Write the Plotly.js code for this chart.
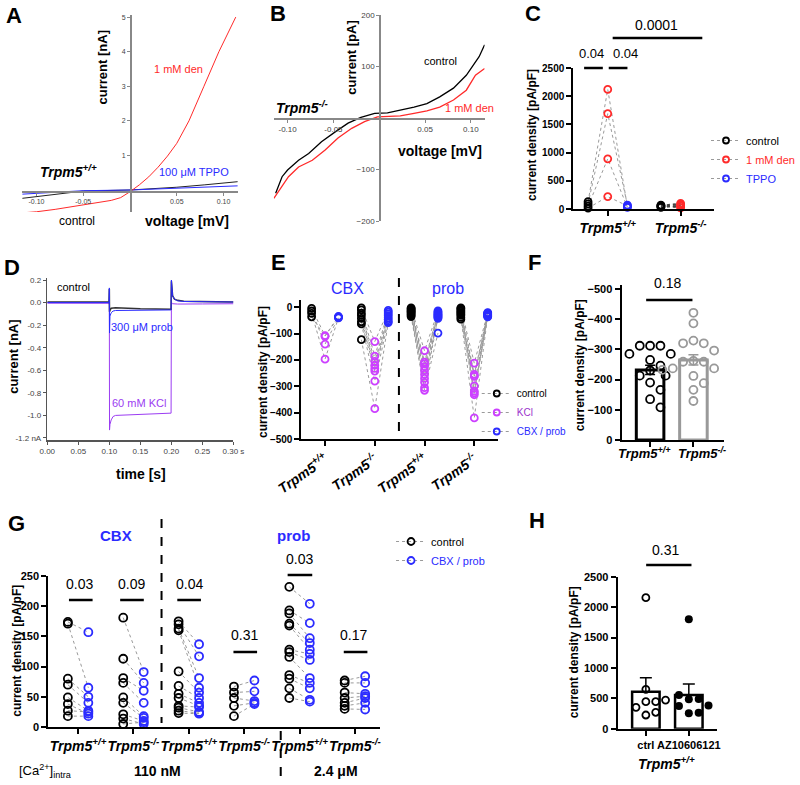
<!DOCTYPE html>
<html><head><meta charset="utf-8">
<script src="https://cdn.plot.ly/plotly-3.0.1.min.js"></script>
<style>html,body{margin:0;padding:0;background:#fff}#plot{width:800px;height:785px}</style>
</head><body><div id="plot"></div>
<script>
// ================= DATA =================
// Panel A: I-V, Trpm5+/+  (voltage [V], current [nA])
const aCtrlV = [-0.115,-0.08,-0.05,0,0.05,0.08,0.115];
const aCtrlI = [-0.24,-0.12,-0.03,0,0.08,0.15,0.24];
const aTppoV = [-0.115,-0.05,0,0.05,0.115];
const aTppoI = [-0.12,-0.02,0,0.05,0.12];
const aDenV  = [-0.115,-0.1,-0.08,-0.06,-0.04,-0.02,-0.01,0,0.01,0.02,0.03,0.04,0.05,0.063,0.079,0.095,0.113];
const aDenI  = [-0.66,-0.63,-0.56,-0.48,-0.40,-0.30,-0.22,-0.05,0.15,0.38,0.66,0.98,1.35,2.0,3.0,4.0,5.0];
// Panel B: I-V, Trpm5-/- (voltage [V], current [pA])
const bCtrlV = [-0.113,-0.106,-0.100,-0.088,-0.077,-0.063,-0.048,-0.034,-0.020,-0.005,0.009,0.023,0.038,0.052,0.066,0.081,0.095,0.109,0.115];
const bCtrlI = [-146,-114,-101,-82,-69,-46,-27,-10,1,9,10,15,21,28,41,58,83,119,142];
const bDenV  = [-0.115,-0.106,-0.099,-0.088,-0.073,-0.059,-0.045,-0.030,-0.016,-0.002,0.009,0.023,0.038,0.052,0.066,0.081,0.095,0.105,0.115];
const bDenI  = [-156,-133,-114,-95,-82,-62,-39,-20,-7,2,3,4,9,14,21,35,54,83,96];
// Panel C: current density [pA/pF]
const cWtCtrl = [130,90,50,15];
const cWtDen  = [2120,1690,890,220];
const cWtTppo = [40,70,30,55];
const cKoCtrl = [40,55,60,70,30];
const cKoDen  = [50,80,100,20,60];
const cTicks  = ['<b><i>Trpm5<sup>+/+</sup></i></b>','<b><i>Trpm5<sup>-/-</sup></i></b>'];
// Panel D: current traces (time [s], current [nA])
const dCtrlT = [0,0.05,0.0995,0.1,0.1003,0.101,0.103,0.106,0.11,0.15,0.1995,0.2,0.2005,0.202,0.205,0.21,0.22,0.25,0.3];
const dCtrlI = [0.006,0.005,0.005,0.12,-0.08,-0.07,-0.05,-0.045,-0.045,-0.055,-0.06,0.19,0.12,0.06,0.03,0.02,0.012,0.008,0.006];
const dProbI = [0.0,0.0,0.0,0.13,-0.27,-0.12,-0.09,-0.075,-0.07,-0.065,-0.065,0.2,0.13,0.06,0.03,0.015,0.01,0.006,0.005];
const dKclT  = [0,0.05,0.0995,0.1,0.1003,0.101,0.103,0.106,0.11,0.15,0.19,0.1995,0.2,0.2005,0.202,0.205,0.21,0.25,0.3];
const dKclI  = [-0.005,-0.006,-0.006,-0.02,-1.13,-1.08,-1.04,-1.01,-1.0,-0.99,-0.98,-0.98,0.02,-0.005,-0.01,-0.012,-0.013,-0.012,-0.01];
// Panel E: current density [pA/pF], per group: control, KCl, CBX/prob
const eGroups = [
  {ctrl:[-4,-14,-23,-36], kcl:[-108,-140,-197,-110], drug:[-35,-38,-40,-36]},
  {ctrl:[-2,-10,-22,-30,-42,-55,-63,-123], kcl:[-130,-185,-205,-220,-232,-242,-280,-385], drug:[-12,-18,-25,-32,-40,-47,-54,-58]},
  {ctrl:[-2,-5,-8,-12,-15,-18,-22,-26,-30,-35], kcl:[-165,-208,-215,-225,-240,-255,-270,-285,-305,-315], drug:[-14,-18,-22,-26,-28,-32,-35,-38,-42,-98]},
  {ctrl:[-2,-5,-10,-15,-20,-25,-30,-38,-45], kcl:[-212,-255,-262,-298,-318,-325,-332,-420,-260], drug:[-20,-22,-24,-26,-28,-30,-32,-34,-36]}
];
const eTicks = ['<b><i>Trpm5<sup>+/+</sup></i></b>','<b><i>Trpm5<sup>-/-</sup></i></b>','<b><i>Trpm5<sup>+/+</sup></i></b>','<b><i>Trpm5<sup>-/-</sup></i></b>'];
// Panel F
const fWt = [-312,-312,-312,-285,-285,-265,-246,-230,-213,-213,-190,-166,-135,-108];
const fKo = [-421,-386,-329,-320,-320,-296,-262,-259,-259,-237,-237,-232,-232,-212,-188,-166,-129];
const fMeans = [-232,-265];
const fSem = [15,17];
const fLabels = ['<b><i>Trpm5<sup>+/+</sup></i></b>','<b><i>Trpm5<sup>-/-</sup></i></b>'];
// Panel G: control vs CBX/prob pairs
const gGroups = [
  {ctrl:[174,171,80,70,49,38,27,18], drug:[157,65,50,40,27,22,25,18]},
  {ctrl:[181,113,81,73,49,40,21,14,5], drug:[91,73,60,40,18,15,10,5,8]},
  {ctrl:[175,170,163,160,92,68,55,48,35,32,27,23], drug:[137,117,81,65,57,48,40,35,33,25,23,22]},
  {ctrl:[67,57,48,35,18], drug:[77,59,43,40,38]},
  {ctrl:[232,193,188,171,168,128,124,116,86,80,64,48], drug:[204,172,147,139,128,121,111,81,73,64,45,42]},
  {ctrl:[77,73,57,48,40,35,30], drug:[84,73,55,51,48,40,29]}
];
const gTicks = ['<b><i>Trpm5<sup>+/+</sup></i></b>','<b><i>Trpm5<sup>-/-</sup></i></b>','<b><i>Trpm5<sup>+/+</sup></i></b>','<b><i>Trpm5<sup>-/-</sup></i></b>','<b><i>Trpm5<sup>+/+</sup></i></b>','<b><i>Trpm5<sup>-/-</sup></i></b>'];
const gP = ['0.03','0.09','0.04','0.31','0.03','0.17'];
// Panel H
const hCtrl = [2155,648,470,444,444,352,270,225];
const hAz   = [1800,554,490,483,380,373,263,253];
const hMeans = [608,554];
const hSem = [231,181];
const hTicks = ['<b>ctrl</b>','<b>AZ10606121</b>'];

// ================= STYLE / HELPERS =================
const W=800,H=785;
const px=x=>x/W, py=y=>1-y/H;
const RED='#ff2a2a', BLUE='#2b2bff', PURP='#9b3cf2', MAG='#cc40ff', LG='#9a9a9a';
const FONT='Liberation Sans, Arial, sans-serif';

function txt(t,x,y,o){o=o||{};const f=Object.assign({size:12,color:'#000',family:FONT},o.font||{});
  return Object.assign({text:t,x:px(x),y:py(y),xref:'paper',yref:'paper',showarrow:false,xanchor:'center',yanchor:'middle'},o,{font:f});}
function hline(x0,x1,y,w){return {type:'line',xref:'paper',yref:'paper',x0:px(x0),x1:px(x1),y0:py(y),y1:py(y),line:{color:'#000',width:w||2.5}};}
function vdash(x,y0,y1){return {type:'line',xref:'paper',yref:'paper',x0:px(x),x1:px(x),y0:py(y0),y1:py(y1),line:{color:'#000',width:2,dash:'dash'}};}

function thinAxis(e){return Object.assign({showgrid:false,zeroline:false,showline:true,linecolor:'#888',linewidth:1.5,ticks:'outside',ticklen:3,tickwidth:1,tickcolor:'#888',tickangle:0,tickfont:{size:8,color:'#444',family:FONT},fixedrange:true},e);}
function boldAxis(e){return Object.assign({showgrid:false,zeroline:false,showline:true,linecolor:'#000',linewidth:2,ticks:'outside',ticklen:5,tickwidth:2,tickcolor:'#000',tickangle:0,tickfont:{size:11,color:'#000',family:FONT,weight:'bold'},fixedrange:true},e);}

function swarm(vals,ppuY,ppuX,d){
  const idx=vals.map((v,i)=>i).sort((a,b)=>vals[a]-vals[b]);
  const placed=[],off=new Array(vals.length).fill(0);
  for(const i of idx){const yp=vals[i]*ppuY;
    for(let k=0;k<60;k++){const c=k===0?0:(k%2===1?1:-1)*Math.ceil(k/2)*d*0.5;
      if(placed.every(p=>Math.hypot(p.x-c,p.y-yp)>=d)){off[i]=c/ppuX;placed.push({x:c,y:yp});break;}}}
  return off;
}
const openM=(c,s)=>({symbol:'circle-open',size:s||7,color:c,line:{width:1.8,color:c}});
const T=[];
const dotLine={color:LG,width:1,dash:'dot'};

// ---- A ----
T.push({x:aCtrlV,y:aCtrlI,xaxis:'x',yaxis:'y',mode:'lines',line:{color:'#222',width:1},showlegend:false});
T.push({x:aTppoV,y:aTppoI,xaxis:'x',yaxis:'y',mode:'lines',line:{color:BLUE,width:1},showlegend:false});
T.push({x:aDenV,y:aDenI,xaxis:'x',yaxis:'y',mode:'lines',line:{color:RED,width:1},showlegend:false});
// ---- B ----
T.push({x:bCtrlV,y:bCtrlI,xaxis:'x2',yaxis:'y2',mode:'lines',line:{color:'#000',width:1.3},showlegend:false});
T.push({x:bDenV,y:bDenI,xaxis:'x2',yaxis:'y2',mode:'lines',line:{color:RED,width:1.3},showlegend:false});
// ---- C ----
const cWtX=[0.46,1,1.54], cKoX=[2.46,3];
cWtCtrl.forEach((v,i)=>T.push({x:cWtX,y:[cWtCtrl[i],cWtDen[i],cWtTppo[i]],xaxis:'x3',yaxis:'y3',mode:'lines',line:dotLine,showlegend:false}));
cKoCtrl.forEach((v,i)=>T.push({x:cKoX,y:[cKoCtrl[i],cKoDen[i]],xaxis:'x3',yaxis:'y3',mode:'lines',line:{color:'#444',width:1.5,dash:'dot'},showlegend:false}));
T.push({x:cWtCtrl.map(()=>cWtX[0]).concat(cKoCtrl.map(()=>cKoX[0])),y:cWtCtrl.concat(cKoCtrl),xaxis:'x3',yaxis:'y3',mode:'markers',marker:openM('#000'),cliponaxis:false,showlegend:false});
T.push({x:cWtDen.map(()=>cWtX[1]).concat(cKoDen.map(()=>cKoX[1])),y:cWtDen.concat(cKoDen),xaxis:'x3',yaxis:'y3',mode:'markers',marker:openM(RED),cliponaxis:false,showlegend:false});
T.push({x:cWtTppo.map(()=>cWtX[2]),y:cWtTppo,xaxis:'x3',yaxis:'y3',mode:'markers',marker:openM(BLUE),cliponaxis:false,showlegend:false});
[['control','#000'],['<span style="color:'+RED+'">1 mM den</span>',RED],['<span style="color:'+BLUE+'">TPPO</span>',BLUE]].forEach(([n,c])=>
  T.push({x:[null],y:[null],xaxis:'x3',yaxis:'y3',mode:'lines+markers',name:n,legend:'legend',line:{color:LG,width:1,dash:'dot'},marker:openM(c,6),showlegend:true}));
// ---- D ----
T.push({x:dKclT,y:dKclI,xaxis:'x4',yaxis:'y4',mode:'lines',line:{color:PURP,width:1},showlegend:false});
T.push({x:dCtrlT,y:dCtrlI,xaxis:'x4',yaxis:'y4',mode:'lines',line:{color:'#333',width:1.5},showlegend:false});
T.push({x:dCtrlT,y:dProbI,xaxis:'x4',yaxis:'y4',mode:'lines',line:{color:BLUE,width:1},showlegend:false});
// ---- E ----
const eOff=0.27;
eGroups.forEach((g,gi)=>{const c=gi+1;
  g.ctrl.forEach((v,i)=>T.push({x:[c-eOff,c,c+eOff],y:[g.ctrl[i],g.kcl[i],g.drug[i]],xaxis:'x5',yaxis:'y5',mode:'lines',line:dotLine,showlegend:false}));});
const eAll=(k,dx)=>({x:[].concat(...eGroups.map((g,gi)=>g[k].map(()=>gi+1+dx))),y:[].concat(...eGroups.map(g=>g[k]))});
T.push(Object.assign(eAll('ctrl',-eOff),{xaxis:'x5',yaxis:'y5',mode:'markers',marker:openM('#000',7),cliponaxis:false,showlegend:false}));
T.push(Object.assign(eAll('kcl',0),{xaxis:'x5',yaxis:'y5',mode:'markers',marker:openM(MAG,7),cliponaxis:false,showlegend:false}));
T.push(Object.assign(eAll('drug',eOff),{xaxis:'x5',yaxis:'y5',mode:'markers',marker:openM(BLUE,7),cliponaxis:false,showlegend:false}));
[['control','#000'],['<span style="color:#9b33cc">KCl</span>',MAG],['<span style="color:'+BLUE+'">CBX / prob</span>',BLUE]].forEach(([n,c])=>
  T.push({x:[null],y:[null],xaxis:'x5',yaxis:'y5',mode:'lines+markers',name:n,legend:'legend2',line:{color:LG,width:1,dash:'dot'},marker:openM(c,6),showlegend:true}));
// ---- F ----
T.push({type:'bar',x:[0],y:[fMeans[0]],width:0.636,xaxis:'x6',yaxis:'y6',marker:{color:'#fff',line:{color:'#000',width:3}},error_y:{type:'data',array:[fSem[0]],color:'#000',thickness:1.5,width:5},showlegend:false});
T.push({type:'bar',x:[1],y:[fMeans[1]],width:0.636,xaxis:'x6',yaxis:'y6',marker:{color:'#fff',line:{color:'#999',width:3}},error_y:{type:'data',array:[fSem[1]],color:'#999',thickness:1.5,width:5},showlegend:false});
const fWo=swarm(fWt,0.302,44,10.5), fKoO=swarm(fKo,0.302,44,10.5);
T.push({x:fWo.map(o=>0+o),y:fWt,xaxis:'x6',yaxis:'y6',mode:'markers',marker:openM('#000',8),cliponaxis:false,showlegend:false});
T.push({x:fKoO.map(o=>1+o),y:fKo,xaxis:'x6',yaxis:'y6',mode:'markers',marker:openM('#999',8),cliponaxis:false,showlegend:false});
// ---- G ----
const gOff=0.185;
gGroups.forEach((g,gi)=>{const c=gi+1;
  g.ctrl.forEach((v,i)=>T.push({x:[c-gOff,c+gOff],y:[g.ctrl[i],g.drug[i]],xaxis:'x7',yaxis:'y7',mode:'lines',line:dotLine,showlegend:false}));});
const gAll=(k,dx)=>({x:[].concat(...gGroups.map((g,gi)=>g[k].map(()=>gi+1+dx))),y:[].concat(...gGroups.map(g=>g[k]))});
T.push(Object.assign(gAll('ctrl',-gOff),{xaxis:'x7',yaxis:'y7',mode:'markers',marker:openM('#000',8),cliponaxis:false,showlegend:false}));
T.push(Object.assign(gAll('drug',gOff),{xaxis:'x7',yaxis:'y7',mode:'markers',marker:openM(BLUE,8),cliponaxis:false,showlegend:false}));
[['control','#000'],['<span style="color:'+BLUE+'">CBX / prob</span>',BLUE]].forEach(([n,c])=>
  T.push({x:[null],y:[null],xaxis:'x7',yaxis:'y7',mode:'lines+markers',name:n,legend:'legend3',line:{color:LG,width:1,dash:'dot'},marker:openM(c,7),showlegend:true}));
// ---- H ----
T.push({type:'bar',x:[0,1],y:hMeans,width:0.64,xaxis:'x8',yaxis:'y8',marker:{color:'#fff',line:{color:'#000',width:2.5}},error_y:{type:'data',symmetric:false,array:hSem,arrayminus:[0,0],color:'#000',thickness:1.5,width:6},showlegend:false});
const hCo=swarm(hCtrl,0.0608,43.6,10), hAo=swarm(hAz,0.0608,43.6,10);
T.push({x:hCo.map(o=>0+o),y:hCtrl,xaxis:'x8',yaxis:'y8',mode:'markers',marker:openM('#000',7),cliponaxis:false,showlegend:false});
T.push({x:hAo.map(o=>1+o),y:hAz,xaxis:'x8',yaxis:'y8',mode:'markers',marker:{symbol:'circle',size:8,color:'#000'},cliponaxis:false,showlegend:false});

// ================= LAYOUT =================
const layout={
  width:W,height:H,margin:{l:0,r:0,t:0,b:0},paper_bgcolor:'#fff',plot_bgcolor:'rgba(0,0,0,0)',
  font:{family:FONT,color:'#000'},barmode:'overlay',showlegend:true,
  xaxis:thinAxis({domain:[px(22),px(242)],range:[-0.1158,0.1158],anchor:'free',position:py(191),tickvals:[-0.1,-0.05,0.05,0.1],ticktext:['-0.10','-0.05','0.05','0.10'],tickfont:{size:7,color:'#444',family:FONT}}),
  yaxis:thinAxis({domain:[py(212),py(15)],range:[-0.636,5.06],anchor:'free',position:px(132),tickvals:[1,2,3,4,5],tickfont:{size:7,color:'#444',family:FONT}}),
  xaxis2:thinAxis({domain:[px(278),px(492)],range:[-0.115,0.115],anchor:'free',position:py(118),tickvals:[-0.1,-0.05,0.05,0.1],ticktext:['-0.10','-0.05','0.05','0.10']}),
  yaxis2:thinAxis({domain:[py(221),py(15)],range:[-200,200],anchor:'free',position:px(385),tickvals:[-200,-100,100,200]}),
  xaxis3:boldAxis({domain:[px(582),px(725)],range:[0.054,3.92],anchor:'y3',tickvals:[1,3],ticktext:cTicks,tickfont:{size:14,color:'#000',family:FONT}}),
  yaxis3:boldAxis({domain:[py(209),py(68)],range:[0,2500],anchor:'x3',tickvals:[0,500,1000,1500,2000,2500],tickfont:{size:10,color:'#000',family:FONT,weight:'bold'}}),
  xaxis4:thinAxis({domain:[px(48),px(237)],range:[0,0.3],anchor:'y4',linecolor:'#555',tickcolor:'#555',tickvals:[0,0.05,0.1,0.15,0.2,0.25,0.3],ticktext:['0.00','0.05','0.10','0.15','0.20','0.25','0.30 s'],tickfont:{size:8,color:'#444',family:FONT}}),
  yaxis4:thinAxis({domain:[py(440),py(278)],range:[-1.218,0.218],anchor:'x4',linecolor:'#555',tickcolor:'#555',tickvals:[0.2,0,-0.2,-0.4,-0.6,-0.8,-1.0,-1.2],ticktext:['0.2','0.0','-0.2','-0.4','-0.6','-0.8','-1.0','-1.2 nA'],tickfont:{size:8,color:'#444',family:FONT}}),
  xaxis5:boldAxis({domain:[px(306),px(506)],range:[0.525,4.485],anchor:'y5',tickvals:[1,2,3,4],ticktext:eTicks,tickangle:-35,tickfont:{size:14,color:'#000',family:FONT}}),
  yaxis5:boldAxis({domain:[py(439),py(300)],range:[-500,27.7],anchor:'x5',tickvals:[0,-100,-200,-300,-400,-500],tickfont:{size:10,color:'#000',family:FONT,weight:'bold'}}),
  xaxis6:boldAxis({domain:[px(631),px(735)],range:[-0.659,1.705],anchor:'y6',tickvals:[0,1],showticklabels:false}),
  yaxis6:boldAxis({domain:[py(440),py(285)],range:[0,-513],anchor:'x6',tickvals:[0,-100,-200,-300,-400,-500]}),
  xaxis7:boldAxis({domain:[px(49),px(386)],range:[0.461,6.457],anchor:'y7',tickvals:[1,2,3,4,5,6],ticktext:gTicks,tickfont:{size:14,color:'#000',family:FONT}}),
  yaxis7:boldAxis({domain:[py(727),py(576)],range:[0,250],anchor:'x7',tickvals:[0,50,100,150,200,250]}),
  xaxis8:boldAxis({domain:[px(627),px(728)],range:[-0.658,1.658],anchor:'y8',tickvals:[0,1],ticktext:hTicks,tickfont:{size:11,color:'#000',family:FONT}}),
  yaxis8:boldAxis({domain:[py(728.7),py(576.7)],range:[0,2500],anchor:'x8',tickvals:[0,500,1000,1500,2000,2500]}),
  legend:{x:px(717),y:py(126),xanchor:'left',yanchor:'top',bgcolor:'rgba(0,0,0,0)',font:{size:11,family:FONT},itemwidth:30,traceorder:'normal'},
  legend2:{x:px(484),y:py(379),xanchor:'left',yanchor:'top',bgcolor:'rgba(0,0,0,0)',font:{size:10,family:FONT},itemwidth:30,traceorder:'normal'},
  legend3:{x:px(397),y:py(527),xanchor:'left',yanchor:'top',bgcolor:'rgba(0,0,0,0)',font:{size:11,family:FONT},itemwidth:30,traceorder:'normal'},
  shapes:[
    hline(593,612,68),hline(618,637,68),hline(622,713,38),
    vdash(405,278,440),
    hline(656,703,300),
    hline(70,94,600),hline(122,146,600),hline(180,204,600),hline(237,261,652),hline(292,317,575),hline(349,373,652),
    vdash(164,519,723),vdash(285,731,785),
    hline(656,702,565)
  ],
  annotations:[
    txt('<b>A</b>',14,16,{font:{size:22}}),
    txt('<b>current [nA]</b>',105,67,{textangle:-90,font:{size:13}}),
    txt('1 mM den',181,69,{font:{size:11,color:RED}}),
    txt('100 μM TPPO',197,172,{font:{size:11,color:BLUE}}),
    txt('<b><i>Trpm5<sup>+/+</sup></i></b>',70,171,{font:{size:14}}),
    txt('control',78,221,{font:{size:12}}),
    txt('<b>voltage [mV]</b>',190,221,{font:{size:14}}),
    txt('<b>B</b>',282,14,{font:{size:22}}),
    txt('<b>current [pA]</b>',357,58,{textangle:-90,font:{size:13}}),
    txt('control',447,61,{font:{size:11}}),
    txt('1 mM den',477,108,{font:{size:11,color:RED}}),
    txt('<b><i>Trpm5<sup>-/-</sup></i></b>',307,107,{font:{size:14}}),
    txt('<b>voltage [mV]</b>',447,151,{font:{size:14}}),
    txt('<b>C</b>',541,14,{font:{size:22}}),
    txt('<b>current density [pA/pF]</b>',540,135,{textangle:-90,font:{size:12}}),
    txt('0.04',600,54,{font:{size:13}}),txt('0.04',635,54,{font:{size:13}}),txt('0.0001',667,25,{font:{size:14}}),
    txt('<b>D</b>',12,268,{font:{size:22}}),
    txt('<b>current [nA]</b>',13,357,{textangle:-90,font:{size:13}}),
    txt('control',75,287,{font:{size:11}}),
    txt('300 μM prob',144,327,{font:{size:11,color:BLUE}}),
    txt('60 mM KCl',141,403,{font:{size:11,color:PURP}}),
    txt('<b>time [s]</b>',143,474,{font:{size:14}}),
    txt('<b>E</b>',283,263,{font:{size:22}}),
    txt('CBX',353,289,{font:{size:16,color:BLUE}}),
    txt('prob',455,289,{font:{size:16,color:BLUE}}),
    txt('<b>current density [pA/pF]</b>',267,372,{textangle:-90,font:{size:12}}),
    txt('<b>F</b>',543,263,{font:{size:22}}),
    txt('<b>current density [pA/pF]</b>',589,365,{textangle:-90,font:{size:12}}),
    txt('0.18',678,283,{font:{size:14}}),
    txt(fLabels[0],654,453,{font:{size:13}}),
    txt(fLabels[1],713,453,{font:{size:13}}),
    txt('<b>G</b>',17,523,{font:{size:22}}),
    txt('<b>CBX</b>',118,535,{font:{size:15,color:BLUE}}),
    txt('<b>prob</b>',298,535,{font:{size:15,color:BLUE}}),
    txt(gP[0],81,584,{font:{size:14}}),txt(gP[1],134,584,{font:{size:14}}),txt(gP[2],192,584,{font:{size:14}}),
    txt(gP[3],248,635,{font:{size:14}}),txt(gP[4],304,559,{font:{size:14}}),txt(gP[5],359,635,{font:{size:14}}),
    txt('<b>current density [pA/pF]</b>',17,651,{textangle:-90,font:{size:12}}),
    txt('[Ca<sup>2+</sup>]<sub>intra</sub>',46,771,{font:{size:13}}),
    txt('<b>110 nM</b>',160,771,{font:{size:14}}),
    txt('<b>2.4 μM</b>',341,771,{font:{size:14}}),
    txt('<b>H</b>',545,520,{font:{size:22}}),
    txt('<b>current density [pA/pF]</b>',583,652,{textangle:-90,font:{size:12}}),
    txt('0.31',676,550,{font:{size:14}}),
    txt('<b><i>Trpm5<sup>+/+</sup></i></b>',677,763,{font:{size:14}})
  ]
};
Plotly.newPlot('plot',T,layout,{staticPlot:true,displayModeBar:false});
</script></body></html>
